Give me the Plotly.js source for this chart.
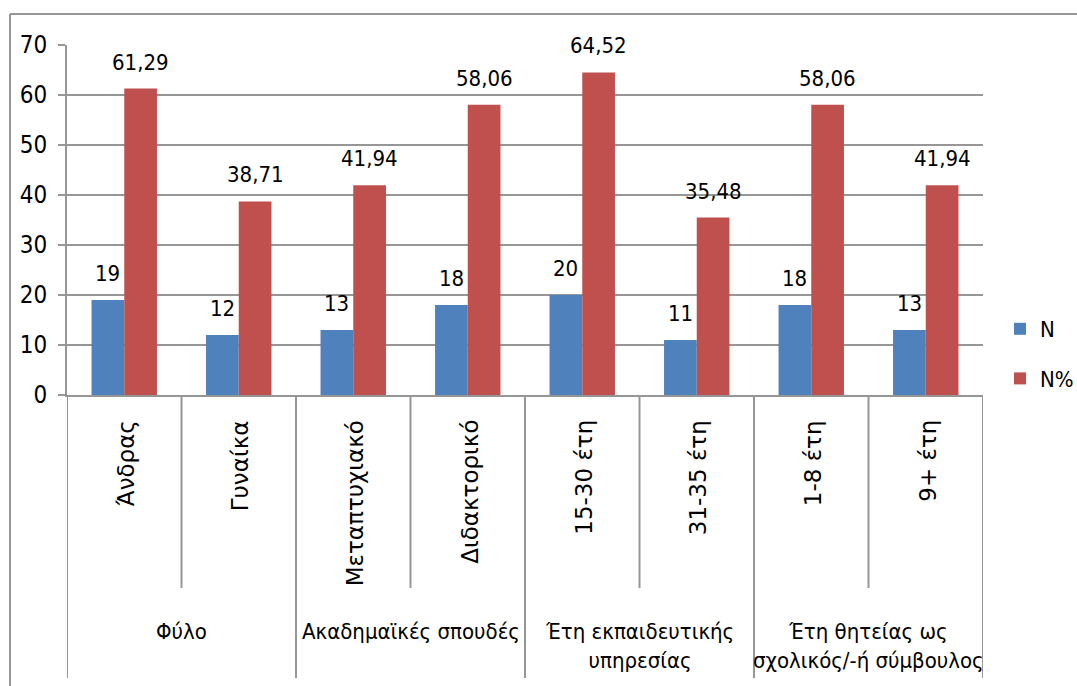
<!DOCTYPE html>
<html>
<head>
<meta charset="utf-8">
<script src="https://cdn.plot.ly/plotly-3.0.1.min.js"></script>
<style>
html,body{margin:0;padding:0;background:#fff;}
#chart{width:1077px;height:686px;}
</style>
</head>
<body>
<div id="chart"></div>
<script>
// ---- data ----
var categories = ['Άνδρας','Γυναίκα','Μεταπτυχιακό','Διδακτορικό','15-30 έτη','31-35 έτη','1-8 έτη','9+ έτη'];
var groups = ['Φύλο','Ακαδημαϊκές σπουδές','Έτη εκπαιδευτικής<br>υπηρεσίας','Έτη θητείας ως<br>σχολικός/-ή σύμβουλος'];
var groupSizes = [2,2,2,2];
var seriesNames = ['N','N%'];
var valuesN = [19,12,13,18,20,11,18,13];
var valuesPct = [61.29,38.71,41.94,58.06,64.52,35.48,58.06,41.94];
var yTicks = [0,10,20,30,40,50,60,70];

// ---- layout geometry ----
var W = 1077, H = 686;
var M = {l:67, r:94, t:45, b:291, autoexpand:false};
var plotW = W - M.l - M.r, plotH = H - M.t - M.b;
function py(p){ return (H - M.b - p) / plotH; }
function pxp(p){ return (p - M.l) / plotW; }

var narrow = '"Liberation Sans Narrow", "DejaVu Sans Condensed", "Arial Narrow", sans-serif';
var wide = '"DejaVu Sans", Verdana, sans-serif';
var grid = '#969696';
var bargap = 1.5/3.5;

var idx = categories.map(function(c,i){return i;});

var traces = [
  {type:'bar', name:seriesNames[0], x:idx, y:valuesN, marker:{color:'#4F81BD'}, legendgroup:'a', hoverinfo:'y'},
  {type:'bar', name:seriesNames[1], x:idx, y:valuesPct, marker:{color:'#C0504D'}, legendgroup:'b', hoverinfo:'y'}
];

var annotations = [];
var off = (1 - bargap) / 4;
function fmt(v){ return (Math.round(v) === v) ? String(v) : v.toFixed(2).replace('.', ','); }
idx.forEach(function(i){
  annotations.push({x:i - off, xref:'x', y:valuesN[i], yref:'y', text:fmt(valuesN[i]), showarrow:false,
    xanchor:'center', yanchor:'bottom', yshift:12, font:{family:narrow, size:22, color:'#000'}});
  annotations.push({x:i + off, xref:'x', y:valuesPct[i], yref:'y', text:fmt(valuesPct[i]), showarrow:false,
    xanchor:'center', yanchor:'bottom', yshift:12, font:{family:narrow, size:22, color:'#000'}});
  annotations.push({x:i, xref:'x', xshift:2, y:py(418), yref:'paper', text:categories[i], showarrow:false, textangle:-90,
    xanchor:'center', yanchor:'top', font:{family:wide, size:23, color:'#000'}});
});

var shapes = [];
var start = 0;
var groupStarts = [];
groupSizes.forEach(function(s, g){
  groupStarts.push(start);
  annotations.push({x:start + (s-1)/2, xref:'x', y:py(617), yref:'paper', text:groups[g], showarrow:false,
    xanchor:'center', yanchor:'top', align:'center', font:{family:narrow, size:22, color:'#000'}});
  start += s;
});
for (var k = 0; k <= categories.length; k++) {
  var isGroup = groupStarts.indexOf(k) >= 0 || k === categories.length;
  shapes.push({type:'line', xref:'x', yref:'paper', x0:k-0.5, x1:k-0.5, y0:0, y1:py(isGroup ? 678 : 588),
    line:{color:grid, width:2}});
}
// outer chart frame (left and top edges visible)
shapes.push({type:'line', xref:'paper', yref:'paper', x0:pxp(10), x1:pxp(1077), y0:py(14), y1:py(14), line:{color:grid, width:2}});
shapes.push({type:'line', xref:'paper', yref:'paper', x0:pxp(10), x1:pxp(10), y0:py(14), y1:py(686), line:{color:grid, width:2}});

var layout = {
  width:W, height:H,
  margin:M,
  paper_bgcolor:'#fff', plot_bgcolor:'#fff',
  barmode:'group', bargap:bargap, bargroupgap:0,
  showlegend:true,
  legend:{x:pxp(1000), xanchor:'left', y:py(308), yanchor:'top', tracegroupgap:18,
    font:{family:narrow, size:22, color:'#000'}, bgcolor:'rgba(0,0,0,0)', itemwidth:30},
  xaxis:{range:[-0.5, categories.length - 0.5], showticklabels:false, showgrid:false, zeroline:false,
    showline:true, linecolor:grid, linewidth:2, ticks:'', fixedrange:true},
  yaxis:{range:[0,70], tickvals:yTicks, ticktext:yTicks.map(String), showgrid:true, gridcolor:grid, gridwidth:2,
    zeroline:false, showline:true, linecolor:grid, linewidth:2, ticks:'outside', ticklen:7, tickwidth:2, tickcolor:grid,
    tickfont:{family:narrow, size:24, color:'#000'}, ticklabelstandoff:6, fixedrange:true},
  annotations:annotations,
  shapes:shapes
};

Plotly.newPlot('chart', traces, layout, {displayModeBar:false, staticPlot:true});
</script>
</body>
</html>
